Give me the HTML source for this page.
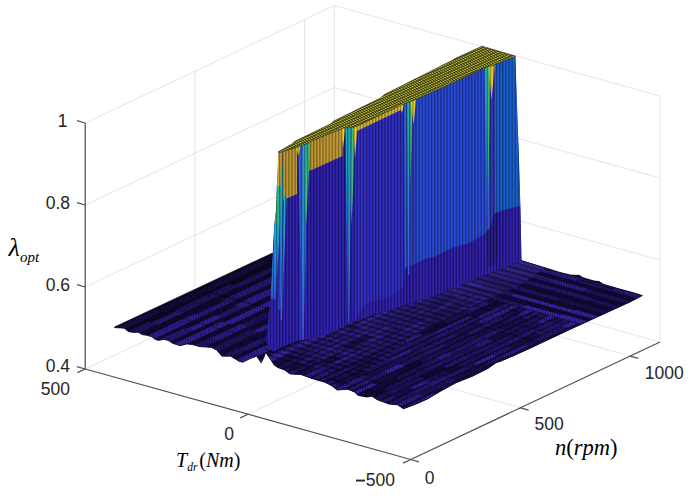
<!DOCTYPE html>
<html><head><meta charset="utf-8"><style>html,body{margin:0;padding:0;background:#fff;width:688px;height:498px;overflow:hidden}svg{display:block}</style></head>
<body><svg width="688" height="498" viewBox="0 0 688 498">
<defs>
<pattern id="mesh" patternUnits="userSpaceOnUse" width="2.4" height="20" patternTransform="rotate(8)"><rect x="0" y="0" width="1" height="20" fill="#000" fill-opacity="0.45"/></pattern>
<pattern id="vs" patternUnits="userSpaceOnUse" width="3.1" height="20"><rect x="0" y="0" width="1.2" height="20" fill="#000" fill-opacity="0.38"/><rect x="1.7" y="0" width="1" height="20" fill="#7080ff" fill-opacity="0.12"/></pattern>
<pattern id="tg" patternUnits="userSpaceOnUse" width="6.5" height="10" patternTransform="matrix(-0.32555,-0.09050,0.21941,-0.10343,247.975,168.250)"><rect x="0" y="0" width="2.4" height="10" fill="#202008" fill-opacity="0.8"/><rect x="0" y="0" width="6.5" height="3.2" fill="#202008" fill-opacity="0.8"/></pattern>
<linearGradient id="gtb" x1="0" y1="0" x2="0" y2="1"><stop offset="0" stop-color="#20b0b8"/><stop offset="0.45" stop-color="#1c90d8"/><stop offset="1" stop-color="#3858e0"/></linearGradient>
<linearGradient id="gcb" x1="0" y1="0" x2="0" y2="1"><stop offset="0" stop-color="#18b0d0"/><stop offset="1" stop-color="#2858d0"/></linearGradient>
<linearGradient id="hg" x1="0" y1="0" x2="0.25" y2="1"><stop offset="0" stop-color="#4634b8" stop-opacity="0.8"/><stop offset="0.5" stop-color="#4634b8" stop-opacity="0.3"/><stop offset="1" stop-color="#4634b8" stop-opacity="0"/></linearGradient>
<pattern id="hl" patternUnits="userSpaceOnUse" width="5" height="5" patternTransform="rotate(15.5)"><rect x="0" y="0" width="5" height="1.4" fill="#000" fill-opacity="0.55"/></pattern>
<linearGradient id="bkd" gradientUnits="userSpaceOnUse" x1="190" y1="292" x2="201" y2="316"><stop offset="0" stop-color="#000" stop-opacity="0.45"/><stop offset="1" stop-color="#000" stop-opacity="0"/></linearGradient>
</defs>
<rect width="688" height="498" fill="#fff"/>
<line x1="85.2" y1="287" x2="334.4" y2="169.5" stroke="#dedede" stroke-width="0.8"/>
<line x1="85.2" y1="205" x2="334.4" y2="87.5" stroke="#dedede" stroke-width="0.8"/>
<line x1="85.2" y1="123" x2="334.4" y2="5.5" stroke="#dedede" stroke-width="0.8"/>
<line x1="194.9" y1="317.3" x2="194.9" y2="71.3" stroke="#dedede" stroke-width="0.8"/>
<line x1="304.6" y1="265.6" x2="304.6" y2="19.6" stroke="#dedede" stroke-width="0.8"/>
<line x1="334.4" y1="251.5" x2="334.4" y2="5.5" stroke="#dedede" stroke-width="0.8"/>
<line x1="660" y1="260" x2="334.4" y2="169.5" stroke="#dedede" stroke-width="0.8"/>
<line x1="660" y1="178" x2="334.4" y2="87.5" stroke="#dedede" stroke-width="0.8"/>
<line x1="660" y1="96" x2="334.4" y2="5.5" stroke="#dedede" stroke-width="0.8"/>
<line x1="497.2" y1="296.8" x2="497.2" y2="50.8" stroke="#dedede" stroke-width="0.8"/>
<line x1="660" y1="342" x2="660" y2="96" stroke="#dedede" stroke-width="0.8"/>
<line x1="248" y1="414.2" x2="497.2" y2="296.8" stroke="#dedede" stroke-width="0.8"/>
<line x1="520.5" y1="407.8" x2="194.9" y2="317.3" stroke="#dedede" stroke-width="0.8"/>
<line x1="630.2" y1="356.1" x2="304.6" y2="265.6" stroke="#dedede" stroke-width="0.8"/>
<line x1="85.2" y1="369" x2="334.4" y2="251.5" stroke="#dedede" stroke-width="0.8"/>
<line x1="660" y1="342" x2="334.4" y2="251.5" stroke="#dedede" stroke-width="0.8"/>
<clipPath id="fc"><polygon points="114.5,327.5 124.4,328.3 128.3,331.6 133.5,332.5 138.1,332.2 142.1,334.6 147.9,335.6 151.9,336.8 155.1,339.4 158.4,340.4 163.6,339.4 168.2,340.4 172.8,343.4 178,345.1 180,345.7 187,344 193,344.8 199.2,346.6 211.4,347.4 216.6,350 221.9,356.2 230.6,356.2 239.3,361.4 242.8,362.3 249.8,358.8 256.7,356.2 261.1,362.8 263.7,357.9 265.5,352.7 267.2,354.4 274.2,364.9 277.7,367.5 284.7,370.1 290,374 300.5,374.4 312.7,378.8 324.9,382.3 331.9,385.8 337.1,390.1 347.6,389.2 354.5,391.9 358,395.4 366.7,397.1 372,396.2 377.2,399.7 384.2,402.3 388.7,404 397.4,404.8 400.9,407 403.5,408.8 410.5,406.2 419.2,402.7 428,398.7 440,391.5 456,382.8 472,376.4 488,368.4 496,362.8 500.8,361.2 512,356.4 528,349.2 570,329.4 600,315.7 630,302 642.4,295.6 633.3,292.7 618.9,288.8 603.2,284.2 599.2,281.6 594,280.9 582.9,277.7 579.6,275.4 570.5,275 560,272.4 521.5,260.5 450,230 350,230 272.5,253.5"/></clipPath>
<polygon points="114.5,327.5 124.4,328.3 128.3,331.6 133.5,332.5 138.1,332.2 142.1,334.6 147.9,335.6 151.9,336.8 155.1,339.4 158.4,340.4 163.6,339.4 168.2,340.4 172.8,343.4 178,345.1 180,345.7 187,344 193,344.8 199.2,346.6 211.4,347.4 216.6,350 221.9,356.2 230.6,356.2 239.3,361.4 242.8,362.3 249.8,358.8 256.7,356.2 261.1,362.8 263.7,357.9 265.5,352.7 267.2,354.4 274.2,364.9 277.7,367.5 284.7,370.1 290,374 300.5,374.4 312.7,378.8 324.9,382.3 331.9,385.8 337.1,390.1 347.6,389.2 354.5,391.9 358,395.4 366.7,397.1 372,396.2 377.2,399.7 384.2,402.3 388.7,404 397.4,404.8 400.9,407 403.5,408.8 410.5,406.2 419.2,402.7 428,398.7 440,391.5 456,382.8 472,376.4 488,368.4 496,362.8 500.8,361.2 512,356.4 528,349.2 570,329.4 600,315.7 630,302 642.4,295.6 633.3,292.7 618.9,288.8 603.2,284.2 599.2,281.6 594,280.9 582.9,277.7 579.6,275.4 570.5,275 560,272.4 521.5,260.5 450,230 350,230 272.5,253.5" fill="#120a3a"/>
<g clip-path="url(#fc)"><g id="ftex"><g transform="matrix(-0.32555,-0.09050,0.21941,-0.10343,247.975,373.250)"><g fill="#4c32e0"><rect x="420.5" y="40" width="25.9" height="184.6" fill-opacity="0.44"/><rect x="413.2" y="224.6" width="23.2" height="244.5" fill-opacity="0.22"/><rect x="413.9" y="469" width="23.2" height="248.7" fill-opacity="0.28"/><rect x="417.4" y="717.7" width="24.2" height="109.3" fill-opacity="0.22"/><rect x="420.3" y="827" width="26.2" height="62.6" fill-opacity="0.47"/><rect x="419.4" y="889.7" width="19.9" height="91.9" fill-opacity="0.55"/><rect x="420" y="981.6" width="20.6" height="183.5" fill-opacity="0.46"/><rect x="375.4" y="40" width="27.2" height="103.1" fill-opacity="0.46"/><rect x="372.9" y="143.1" width="20.5" height="117.9" fill-opacity="0.61"/><rect x="373" y="261" width="28.2" height="248.2" fill-opacity="0.41"/><rect x="368.8" y="509.2" width="20" height="238.7" fill-opacity="0.41"/><rect x="369.9" y="747.9" width="24.5" height="73" fill-opacity="0.57"/><rect x="370" y="820.9" width="26.7" height="60.7" fill-opacity="0.40"/><rect x="370" y="881.6" width="23.3" height="156.1" fill-opacity="0.34"/><rect x="367.7" y="1037.8" width="26" height="200.9" fill-opacity="0.65"/><rect x="322.1" y="40" width="26.4" height="229" fill-opacity="0.57"/><rect x="322.4" y="269" width="20.3" height="133.2" fill-opacity="0.43"/><rect x="323.6" y="402.2" width="26.1" height="251" fill-opacity="0.44"/><rect x="324.8" y="653.2" width="23.7" height="245.9" fill-opacity="0.56"/><rect x="322.9" y="899.2" width="26" height="215.1" fill-opacity="0.41"/><rect x="329.6" y="1114.3" width="19.4" height="219.4" fill-opacity="0.47"/><rect x="281.4" y="40" width="27.7" height="128.1" fill-opacity="0.42"/><rect x="279" y="168.1" width="21.7" height="128" fill-opacity="0.60"/><rect x="277.1" y="296.1" width="20" height="95.5" fill-opacity="0.38"/><rect x="276.9" y="391.6" width="28.4" height="197.8" fill-opacity="0.53"/><rect x="279.7" y="589.5" width="20.9" height="166.7" fill-opacity="0.45"/><rect x="279.9" y="756.2" width="19.1" height="178.8" fill-opacity="0.52"/><rect x="276.8" y="935" width="23.4" height="243.2" fill-opacity="0.32"/><rect x="238.6" y="40" width="24.8" height="227.7" fill-opacity="0.59"/><rect x="231.9" y="267.7" width="22.8" height="217.6" fill-opacity="0.60"/><rect x="234.6" y="485.3" width="28.5" height="89.8" fill-opacity="0.51"/><rect x="238.8" y="575.1" width="23" height="230.5" fill-opacity="0.36"/><rect x="233.3" y="805.6" width="22.5" height="157.6" fill-opacity="0.43"/><rect x="234" y="963.2" width="28.4" height="89.3" fill-opacity="0.30"/><rect x="233.7" y="1052.5" width="19.4" height="252" fill-opacity="0.34"/><rect x="191.8" y="40" width="27.2" height="114.5" fill-opacity="0.34"/><rect x="191.1" y="154.5" width="25.1" height="132.3" fill-opacity="0.50"/><rect x="188.4" y="286.7" width="25.5" height="211.9" fill-opacity="0.23"/><rect x="191" y="498.7" width="21.4" height="116.2" fill-opacity="0.23"/><rect x="190.7" y="614.8" width="24.3" height="249.1" fill-opacity="0.47"/><rect x="190.9" y="863.9" width="23.1" height="62.3" fill-opacity="0.36"/><rect x="190.7" y="926.3" width="26.5" height="223.3" fill-opacity="0.42"/><rect x="192.1" y="1149.6" width="22" height="129.6" fill-opacity="0.32"/><rect x="147" y="40" width="25.4" height="228.6" fill-opacity="0.28"/><rect x="144.2" y="268.6" width="20.2" height="255.2" fill-opacity="0.60"/><rect x="147.5" y="523.8" width="23.3" height="227.3" fill-opacity="0.41"/><rect x="141.4" y="751.1" width="26.3" height="198.3" fill-opacity="0.41"/><rect x="145.3" y="949.4" width="22.7" height="176.2" fill-opacity="0.24"/><rect x="145.8" y="1125.6" width="18.8" height="184.7" fill-opacity="0.48"/><rect x="98" y="40" width="25" height="92" fill-opacity="0.27"/><rect x="94.8" y="132" width="23.2" height="103.8" fill-opacity="0.38"/><rect x="94.9" y="235.8" width="19.8" height="105.2" fill-opacity="0.28"/><rect x="94.8" y="341.1" width="23.2" height="123.5" fill-opacity="0.49"/><rect x="99.4" y="464.5" width="24.4" height="136.1" fill-opacity="0.53"/><rect x="97.7" y="600.6" width="21.3" height="107.6" fill-opacity="0.45"/><rect x="95.4" y="708.2" width="26.8" height="142" fill-opacity="0.45"/><rect x="95.3" y="850.2" width="24" height="134.8" fill-opacity="0.62"/><rect x="99.1" y="984.9" width="28.1" height="127.9" fill-opacity="0.49"/><rect x="99.6" y="1112.8" width="22.2" height="223.7" fill-opacity="0.24"/><rect x="53.8" y="40" width="24.1" height="88.4" fill-opacity="0.57"/><rect x="51.8" y="128.4" width="27.4" height="251.4" fill-opacity="0.62"/><rect x="49.9" y="379.9" width="24.2" height="60.2" fill-opacity="0.41"/><rect x="56.1" y="440.1" width="22.3" height="183" fill-opacity="0.57"/><rect x="50.8" y="623.1" width="21.4" height="146.3" fill-opacity="0.59"/><rect x="56.3" y="769.4" width="24.5" height="254.5" fill-opacity="0.21"/><rect x="56.8" y="1023.9" width="23.5" height="112" fill-opacity="0.65"/><rect x="52.9" y="1135.9" width="21.4" height="143.1" fill-opacity="0.29"/><rect x="4.5" y="40" width="24.7" height="155.4" fill-opacity="0.65"/><rect x="10.1" y="195.4" width="18.6" height="148.7" fill-opacity="0.39"/><rect x="5.7" y="344.1" width="27.9" height="166.5" fill-opacity="0.65"/><rect x="4.7" y="510.6" width="28.4" height="216.4" fill-opacity="0.45"/><rect x="8.4" y="727" width="23.2" height="118.6" fill-opacity="0.55"/><rect x="4.4" y="845.6" width="26.1" height="189" fill-opacity="0.28"/><rect x="7.8" y="1034.6" width="21.9" height="120.1" fill-opacity="0.32"/><rect x="0.2" y="40" width="15.9" height="62.7" fill-opacity="0.13"/><rect x="0.2" y="102.7" width="17.3" height="112" fill-opacity="0.29"/><rect x="0.2" y="214.6" width="19.2" height="34" fill-opacity="0.33"/><rect x="0.2" y="248.6" width="17" height="127.7" fill-opacity="0.53"/><rect x="0.2" y="376.3" width="17.2" height="31.6" fill-opacity="0.36"/><rect x="0.2" y="407.9" width="17.5" height="107.9" fill-opacity="0.14"/><rect x="0.2" y="515.8" width="16.1" height="83" fill-opacity="0.48"/><rect x="0.2" y="598.8" width="14.9" height="123.7" fill-opacity="0.24"/><rect x="0.2" y="722.5" width="18.8" height="62.6" fill-opacity="0.36"/><rect x="0.2" y="785.1" width="16.3" height="74.9" fill-opacity="0.27"/><rect x="-22.5" y="40" width="14.6" height="61.5" fill-opacity="0.41"/><rect x="-22.5" y="101.5" width="17" height="82.6" fill-opacity="0.00"/><rect x="-22.5" y="184.1" width="17.3" height="84.7" fill-opacity="0.28"/><rect x="-22.5" y="268.9" width="14.2" height="119.3" fill-opacity="0.42"/><rect x="-22.5" y="388.2" width="17.7" height="55.3" fill-opacity="0.47"/><rect x="-22.5" y="443.5" width="18.1" height="32.8" fill-opacity="0.04"/><rect x="-22.5" y="476.3" width="14" height="137.7" fill-opacity="0.61"/><rect x="-22.5" y="613.9" width="15.1" height="122.6" fill-opacity="0.33"/><rect x="-22.5" y="736.6" width="14.6" height="101" fill-opacity="0.60"/><rect x="-22.5" y="837.6" width="19.3" height="22.4" fill-opacity="0.25"/><rect x="-45.2" y="40" width="14.7" height="46.5" fill-opacity="0.19"/><rect x="-45.2" y="86.5" width="14" height="98.5" fill-opacity="0.21"/><rect x="-45.2" y="184.9" width="14.1" height="41.9" fill-opacity="0.28"/><rect x="-45.2" y="226.8" width="18.2" height="93.3" fill-opacity="0.38"/><rect x="-45.2" y="320.1" width="15.6" height="126.6" fill-opacity="0.46"/><rect x="-45.2" y="446.7" width="16.7" height="96" fill-opacity="0.47"/><rect x="-45.2" y="542.8" width="17.9" height="133.2" fill-opacity="0.29"/><rect x="-45.2" y="676" width="17.5" height="46.6" fill-opacity="0.37"/><rect x="-45.2" y="722.6" width="17.5" height="85.6" fill-opacity="0.52"/><rect x="-45.2" y="808.3" width="17.1" height="51.7" fill-opacity="0.21"/><rect x="-68" y="40" width="14.6" height="58" fill-opacity="0.33"/><rect x="-68" y="98" width="16" height="55.8" fill-opacity="0.11"/><rect x="-68" y="153.7" width="17.7" height="111" fill-opacity="0.45"/><rect x="-68" y="264.8" width="17.8" height="39.4" fill-opacity="0.59"/><rect x="-68" y="304.2" width="15.2" height="40" fill-opacity="0.50"/><rect x="-68" y="344.2" width="16.6" height="126.5" fill-opacity="0.50"/><rect x="-68" y="470.7" width="18.1" height="65.6" fill-opacity="0.34"/><rect x="-68" y="536.2" width="14.7" height="35.9" fill-opacity="0.29"/><rect x="-68" y="572.1" width="14.4" height="134.7" fill-opacity="0.28"/><rect x="-68" y="706.8" width="17.7" height="137" fill-opacity="0.21"/><rect x="-68" y="843.8" width="15.9" height="16.2" fill-opacity="0.49"/><rect x="-90.8" y="40" width="15.7" height="55.9" fill-opacity="0.52"/><rect x="-90.8" y="95.9" width="14.6" height="97.5" fill-opacity="0.23"/><rect x="-90.8" y="193.4" width="17.6" height="121.4" fill-opacity="0.47"/><rect x="-90.8" y="314.8" width="16.9" height="118.5" fill-opacity="0.01"/><rect x="-90.8" y="433.3" width="17.2" height="95.2" fill-opacity="0.47"/><rect x="-90.8" y="528.5" width="13.9" height="111.4" fill-opacity="0.27"/><rect x="-90.8" y="639.9" width="14" height="52.3" fill-opacity="0.38"/><rect x="-90.8" y="692.2" width="13.8" height="127.8" fill-opacity="0.03"/><rect x="-90.8" y="820" width="19.1" height="40" fill-opacity="0.37"/><rect x="-113.5" y="40" width="14.3" height="98.1" fill-opacity="0.15"/><rect x="-113.5" y="138.1" width="14.7" height="47" fill-opacity="0.42"/><rect x="-113.5" y="185.2" width="14.7" height="71.2" fill-opacity="0.05"/><rect x="-113.5" y="256.4" width="15.4" height="57.9" fill-opacity="0.57"/><rect x="-113.5" y="314.3" width="16.6" height="47.8" fill-opacity="0.30"/><rect x="-113.5" y="362.1" width="19.3" height="33.5" fill-opacity="0.46"/><rect x="-113.5" y="395.6" width="17.8" height="70.6" fill-opacity="0.58"/><rect x="-113.5" y="466.2" width="19.4" height="81.9" fill-opacity="0.23"/><rect x="-113.5" y="548.1" width="17.8" height="43" fill-opacity="0.26"/><rect x="-113.5" y="591.1" width="14.7" height="110.2" fill-opacity="0.20"/><rect x="-113.5" y="701.3" width="14.2" height="52.1" fill-opacity="0.46"/><rect x="-113.5" y="753.4" width="19.6" height="74.1" fill-opacity="0.35"/><rect x="-113.5" y="827.5" width="15.4" height="32.5" fill-opacity="0.25"/><rect x="-136.2" y="40" width="18.1" height="110.6" fill-opacity="0.52"/><rect x="-136.2" y="150.6" width="19.4" height="48" fill-opacity="0.35"/><rect x="-136.2" y="198.5" width="16.3" height="101" fill-opacity="0.60"/><rect x="-136.2" y="299.6" width="18.4" height="137.3" fill-opacity="0.39"/><rect x="-136.2" y="436.9" width="14" height="75.1" fill-opacity="0.33"/><rect x="-136.2" y="512" width="15.9" height="90.3" fill-opacity="0.55"/><rect x="-136.2" y="602.3" width="14.2" height="40.3" fill-opacity="0.32"/><rect x="-136.2" y="642.6" width="14.1" height="128.9" fill-opacity="0.00"/><rect x="-136.2" y="771.5" width="14.1" height="56.8" fill-opacity="0.35"/><rect x="-136.2" y="828.3" width="16.2" height="31.7" fill-opacity="0.46"/><rect x="-159" y="40" width="14.1" height="63.7" fill-opacity="0.38"/><rect x="-159" y="103.7" width="16.8" height="34.1" fill-opacity="0.44"/><rect x="-159" y="137.8" width="16.9" height="74.3" fill-opacity="0.31"/><rect x="-159" y="212.1" width="17" height="39.3" fill-opacity="0.30"/><rect x="-159" y="251.3" width="17.3" height="131.3" fill-opacity="0.41"/><rect x="-159" y="382.7" width="17" height="124.2" fill-opacity="0.34"/><rect x="-159" y="506.9" width="17.2" height="83.5" fill-opacity="0.36"/><rect x="-159" y="590.4" width="19.2" height="71.4" fill-opacity="0.13"/><rect x="-159" y="661.9" width="16.4" height="63.8" fill-opacity="0.13"/><rect x="-159" y="725.7" width="15.6" height="120.9" fill-opacity="0.34"/><rect x="-159" y="846.6" width="18.4" height="13.4" fill-opacity="0.42"/><rect x="-181.8" y="40" width="14.2" height="120.1" fill-opacity="0.29"/><rect x="-181.8" y="160.1" width="14.3" height="56.9" fill-opacity="0.42"/><rect x="-181.8" y="217.1" width="14.1" height="77.2" fill-opacity="0.21"/><rect x="-181.8" y="294.2" width="14" height="107.1" fill-opacity="0.27"/><rect x="-181.8" y="401.3" width="14.3" height="52" fill-opacity="0.29"/><rect x="-181.8" y="453.3" width="15.6" height="76.3" fill-opacity="0.50"/><rect x="-181.8" y="529.5" width="17.7" height="112.8" fill-opacity="0.00"/><rect x="-181.8" y="642.3" width="17.2" height="113.6" fill-opacity="0.20"/><rect x="-181.8" y="755.9" width="19.5" height="78.6" fill-opacity="0.44"/><rect x="-181.8" y="834.5" width="18" height="25.5" fill-opacity="0.09"/><rect x="-204.5" y="40" width="14.5" height="59.4" fill-opacity="0.40"/><rect x="-204.5" y="99.4" width="14.8" height="37.3" fill-opacity="0.17"/><rect x="-204.5" y="136.7" width="14.1" height="58.9" fill-opacity="0.26"/><rect x="-204.5" y="195.6" width="17.1" height="114" fill-opacity="0.20"/><rect x="-204.5" y="309.6" width="15.9" height="33" fill-opacity="0.42"/><rect x="-204.5" y="342.6" width="19.4" height="124.6" fill-opacity="0.36"/><rect x="-204.5" y="467.2" width="15.9" height="97.3" fill-opacity="0.35"/><rect x="-204.5" y="564.5" width="13.8" height="66.3" fill-opacity="0.52"/><rect x="-204.5" y="630.9" width="14.3" height="94.3" fill-opacity="0.46"/><rect x="-204.5" y="725.1" width="14.8" height="88.3" fill-opacity="0.07"/><rect x="-204.5" y="813.5" width="18.5" height="46.5" fill-opacity="0.00"/><rect x="-227.2" y="40" width="15.7" height="43" fill-opacity="0.47"/><rect x="-227.2" y="83" width="16.4" height="130.6" fill-opacity="0.14"/><rect x="-227.2" y="213.7" width="19.4" height="114.4" fill-opacity="0.38"/><rect x="-227.2" y="328.1" width="14.4" height="88.6" fill-opacity="0.57"/><rect x="-227.2" y="416.7" width="16.3" height="119.6" fill-opacity="0.28"/><rect x="-227.2" y="536.2" width="17.2" height="35.8" fill-opacity="0.38"/><rect x="-227.2" y="572" width="19" height="83" fill-opacity="0.32"/><rect x="-227.2" y="655" width="15" height="73.2" fill-opacity="0.36"/><rect x="-227.2" y="728.2" width="15.9" height="91.9" fill-opacity="0.47"/><rect x="-227.2" y="820.1" width="15.2" height="39.9" fill-opacity="0.34"/><rect x="-250" y="40" width="18.8" height="138.1" fill-opacity="0.50"/><rect x="-250" y="178.1" width="14.6" height="123.5" fill-opacity="0.20"/><rect x="-250" y="301.5" width="16.7" height="121.5" fill-opacity="0.21"/><rect x="-250" y="423" width="18.1" height="34.2" fill-opacity="0.37"/><rect x="-250" y="457.2" width="14.9" height="129" fill-opacity="0.40"/><rect x="-250" y="586.2" width="18.9" height="117.7" fill-opacity="0.21"/><rect x="-250" y="703.9" width="18.6" height="98.5" fill-opacity="0.57"/><rect x="-250" y="802.4" width="17.3" height="57.6" fill-opacity="0.55"/><rect x="-272.8" y="40" width="16.1" height="50.3" fill-opacity="0.34"/><rect x="-272.8" y="90.3" width="16" height="64.9" fill-opacity="0.48"/><rect x="-272.8" y="155.2" width="18" height="82.4" fill-opacity="0.36"/><rect x="-272.8" y="237.6" width="19.3" height="73.9" fill-opacity="0.66"/><rect x="-272.8" y="311.5" width="17.8" height="106.2" fill-opacity="0.29"/><rect x="-272.8" y="417.7" width="17.3" height="89" fill-opacity="0.38"/><rect x="-272.8" y="506.7" width="16.9" height="104.7" fill-opacity="0.17"/><rect x="-272.8" y="611.5" width="15.9" height="61.3" fill-opacity="0.40"/><rect x="-272.8" y="672.7" width="18.3" height="93.8" fill-opacity="0.37"/><rect x="-272.8" y="766.6" width="15.4" height="93.4" fill-opacity="0.19"/><rect x="-295.5" y="40" width="14.2" height="108.8" fill-opacity="0.70"/><rect x="-295.5" y="148.8" width="19.1" height="112.9" fill-opacity="0.11"/><rect x="-295.5" y="261.6" width="18.8" height="105.6" fill-opacity="0.00"/><rect x="-295.5" y="367.3" width="16.9" height="111.2" fill-opacity="0.24"/><rect x="-295.5" y="478.5" width="15.2" height="128.6" fill-opacity="0.25"/><rect x="-295.5" y="607.1" width="13.8" height="137.2" fill-opacity="0.16"/><rect x="-295.5" y="744.3" width="14.8" height="72.9" fill-opacity="0.28"/><rect x="-295.5" y="817.2" width="17.4" height="42.8" fill-opacity="0.65"/><rect x="-318.2" y="40" width="14.4" height="72.5" fill-opacity="0.10"/><rect x="-318.2" y="112.5" width="16" height="105.8" fill-opacity="0.06"/><rect x="-318.2" y="218.3" width="15" height="127.5" fill-opacity="0.24"/><rect x="-318.2" y="345.8" width="19.1" height="63.6" fill-opacity="0.30"/><rect x="-318.2" y="409.5" width="17.5" height="48.4" fill-opacity="0.58"/><rect x="-318.2" y="457.9" width="17.1" height="114.3" fill-opacity="0.34"/><rect x="-318.2" y="572.2" width="19" height="121.3" fill-opacity="0.39"/><rect x="-318.2" y="693.5" width="16.9" height="110.1" fill-opacity="0.17"/><rect x="-318.2" y="803.6" width="15.6" height="56.4" fill-opacity="0.42"/><rect x="-341" y="40" width="14.9" height="60.9" fill-opacity="0.00"/><rect x="-341" y="100.9" width="14.4" height="33.4" fill-opacity="0.04"/><rect x="-341" y="134.2" width="14.9" height="91.9" fill-opacity="0.24"/><rect x="-341" y="226.1" width="17.6" height="95.4" fill-opacity="0.26"/><rect x="-341" y="321.5" width="16.7" height="105.9" fill-opacity="0.32"/><rect x="-341" y="427.4" width="19.5" height="121.8" fill-opacity="0.27"/><rect x="-341" y="549.3" width="19.3" height="65" fill-opacity="0.48"/><rect x="-341" y="614.3" width="17.9" height="55.2" fill-opacity="0.12"/><rect x="-341" y="669.5" width="14.9" height="122.5" fill-opacity="0.25"/><rect x="-341" y="792" width="14.3" height="47.2" fill-opacity="0.34"/><rect x="-341" y="839.2" width="18.3" height="20.8" fill-opacity="0.27"/><rect x="-363.8" y="40" width="18.6" height="111" fill-opacity="0.27"/><rect x="-363.8" y="151" width="19.5" height="118.4" fill-opacity="0.24"/><rect x="-363.8" y="269.4" width="19.5" height="98.8" fill-opacity="0.00"/><rect x="-363.8" y="368.2" width="15" height="41.4" fill-opacity="0.38"/><rect x="-363.8" y="409.5" width="16.5" height="71.2" fill-opacity="0.37"/><rect x="-363.8" y="480.7" width="16.2" height="104.9" fill-opacity="0.33"/><rect x="-363.8" y="585.6" width="16" height="89.8" fill-opacity="0.25"/><rect x="-363.8" y="675.3" width="17.9" height="42.9" fill-opacity="0.19"/><rect x="-363.8" y="718.3" width="19.5" height="84.5" fill-opacity="0.23"/><rect x="-363.8" y="802.8" width="18.1" height="57.2" fill-opacity="0.60"/><rect x="-386.5" y="40" width="14.5" height="62.6" fill-opacity="0.46"/><rect x="-386.5" y="102.6" width="19.3" height="82.7" fill-opacity="0.15"/><rect x="-386.5" y="185.2" width="15.5" height="72" fill-opacity="0.56"/><rect x="-386.5" y="257.3" width="17.2" height="84.9" fill-opacity="0.23"/><rect x="-386.5" y="342.1" width="15.8" height="62.6" fill-opacity="0.03"/><rect x="-386.5" y="404.7" width="16.3" height="123.3" fill-opacity="0.27"/><rect x="-386.5" y="528" width="17.7" height="56.2" fill-opacity="0.32"/><rect x="-386.5" y="584.1" width="16.6" height="38.1" fill-opacity="0.32"/><rect x="-386.5" y="622.2" width="17" height="138.3" fill-opacity="0.41"/><rect x="-386.5" y="760.5" width="15.9" height="72.5" fill-opacity="0.40"/><rect x="-386.5" y="833" width="13.8" height="27" fill-opacity="0.30"/><rect x="-409.2" y="40" width="15.3" height="114.3" fill-opacity="0.31"/><rect x="-409.2" y="154.3" width="16" height="80.4" fill-opacity="0.36"/><rect x="-409.2" y="234.7" width="19.6" height="86.8" fill-opacity="0.45"/><rect x="-409.2" y="321.5" width="16.6" height="78.7" fill-opacity="0.37"/><rect x="-409.2" y="400.2" width="17.9" height="39.4" fill-opacity="0.25"/><rect x="-409.2" y="439.6" width="14.1" height="85.9" fill-opacity="0.70"/><rect x="-409.2" y="525.4" width="17.3" height="73.2" fill-opacity="0.36"/><rect x="-409.2" y="598.6" width="17.6" height="129.3" fill-opacity="0.14"/><rect x="-409.2" y="727.9" width="18.4" height="99.9" fill-opacity="0.37"/><rect x="-409.2" y="827.8" width="19" height="32.2" fill-opacity="0.34"/><rect x="-432" y="40" width="19.7" height="120.8" fill-opacity="0.48"/><rect x="-432" y="160.8" width="19.1" height="113.2" fill-opacity="0.24"/><rect x="-432" y="274" width="19.6" height="46.3" fill-opacity="0.37"/><rect x="-432" y="320.3" width="15.1" height="139.4" fill-opacity="0.15"/><rect x="-432" y="459.7" width="15.5" height="76.4" fill-opacity="0.30"/><rect x="-432" y="536" width="14.5" height="103.3" fill-opacity="0.53"/><rect x="-432" y="639.3" width="16" height="48.6" fill-opacity="0.26"/><rect x="-432" y="688" width="19.1" height="128.7" fill-opacity="0.35"/><rect x="-432" y="816.7" width="19.5" height="43.3" fill-opacity="0.67"/><rect x="-454.8" y="40" width="14.6" height="95.9" fill-opacity="0.37"/><rect x="-454.8" y="135.9" width="13.9" height="56" fill-opacity="0.70"/><rect x="-454.8" y="191.9" width="16.3" height="50.3" fill-opacity="0.13"/><rect x="-454.8" y="242.2" width="18.4" height="59.3" fill-opacity="0.33"/><rect x="-454.8" y="301.6" width="16.9" height="46.7" fill-opacity="0.16"/><rect x="-454.8" y="348.3" width="14.4" height="137.2" fill-opacity="0.31"/><rect x="-454.8" y="485.5" width="16" height="100.8" fill-opacity="0.26"/><rect x="-454.8" y="586.3" width="19.5" height="70.6" fill-opacity="0.09"/><rect x="-454.8" y="656.9" width="17.2" height="56.5" fill-opacity="0.36"/><rect x="-454.8" y="713.4" width="14.6" height="58.9" fill-opacity="0.05"/><rect x="-454.8" y="772.3" width="18" height="82.9" fill-opacity="0.25"/><rect x="-454.8" y="855.2" width="16.8" height="4.8" fill-opacity="0.35"/><rect x="-477.5" y="40" width="18.5" height="97.2" fill-opacity="0.14"/><rect x="-477.5" y="137.2" width="16.1" height="36.2" fill-opacity="0.28"/><rect x="-477.5" y="173.3" width="13.9" height="68" fill-opacity="0.33"/><rect x="-477.5" y="241.4" width="19.3" height="62.8" fill-opacity="0.08"/><rect x="-477.5" y="304.1" width="16.9" height="70.7" fill-opacity="0.41"/><rect x="-477.5" y="374.9" width="19.7" height="108.4" fill-opacity="0.70"/><rect x="-477.5" y="483.3" width="14.7" height="63.2" fill-opacity="0.16"/><rect x="-477.5" y="546.5" width="18.2" height="132.5" fill-opacity="0.50"/><rect x="-477.5" y="679" width="16.1" height="88.2" fill-opacity="0.42"/><rect x="-477.5" y="767.2" width="18.7" height="92.8" fill-opacity="0.26"/><rect x="-59.3" y="864" width="79.3" height="22.5" fill-opacity="0.62"/><rect x="-188.5" y="864" width="129.2" height="23.5" fill-opacity="0.26"/><rect x="-256.9" y="864" width="68.4" height="19.9" fill-opacity="0.33"/><rect x="-364.8" y="864" width="107.9" height="21.6" fill-opacity="0.70"/><rect x="-463.4" y="864" width="98.6" height="26.8" fill-opacity="0.70"/><rect x="-627.2" y="864" width="163.8" height="25.3" fill-opacity="0.35"/><rect x="-94.4" y="914" width="114.4" height="25.3" fill-opacity="0.70"/><rect x="-188.8" y="914" width="94.4" height="23.4" fill-opacity="0.35"/><rect x="-374.4" y="914" width="185.6" height="20.8" fill-opacity="0.70"/><rect x="-453.6" y="914" width="79.2" height="24.6" fill-opacity="0.69"/><rect x="-515" y="914" width="61.4" height="19.4" fill-opacity="0.49"/><rect x="-155.4" y="964" width="175.4" height="19.4" fill-opacity="0.00"/><rect x="-297.8" y="964" width="142.4" height="20.2" fill-opacity="0.39"/><rect x="-458.8" y="964" width="161" height="21.2" fill-opacity="0.17"/><rect x="-651.6" y="964" width="192.9" height="20.1" fill-opacity="0.20"/><rect x="-49" y="1014" width="69" height="19.7" fill-opacity="0.34"/><rect x="-173.4" y="1014" width="124.4" height="25.5" fill-opacity="0.30"/><rect x="-358.3" y="1014" width="184.9" height="25.4" fill-opacity="0.37"/><rect x="-536.4" y="1014" width="178.1" height="20.2" fill-opacity="0.31"/><rect x="-145.6" y="1064" width="165.6" height="19" fill-opacity="0.37"/><rect x="-311.8" y="1064" width="166.1" height="24.2" fill-opacity="0.55"/><rect x="-498.1" y="1064" width="186.3" height="21.2" fill-opacity="0.27"/><rect x="-76.9" y="1114" width="96.9" height="28.5" fill-opacity="0.40"/><rect x="-165.6" y="1114" width="88.7" height="19.8" fill-opacity="0.54"/><rect x="-285.1" y="1114" width="119.5" height="25.2" fill-opacity="0.48"/><rect x="-436.2" y="1114" width="151.1" height="23.9" fill-opacity="0.43"/><rect x="-592.4" y="1114" width="156.2" height="23.5" fill-opacity="0.48"/></g><g fill="#000"><rect x="-150.9" y="50" width="283.3" height="9.1" fill-opacity="0.32"/><rect x="-364.7" y="100.3" width="192.6" height="10.3" fill-opacity="0.36"/><rect x="-297.1" y="162" width="99.9" height="5.8" fill-opacity="0.40"/><rect x="89.9" y="219.8" width="292.2" height="5.4" fill-opacity="0.36"/><rect x="-461.4" y="274.4" width="196.2" height="6.4" fill-opacity="0.21"/><rect x="-452.9" y="312" width="182.1" height="7.2" fill-opacity="0.31"/><rect x="-105" y="375.7" width="190" height="9.7" fill-opacity="0.37"/><rect x="98.7" y="424" width="299.1" height="7.5" fill-opacity="0.41"/><rect x="-339.1" y="482.3" width="143.6" height="7.8" fill-opacity="0.22"/><rect x="12.6" y="543" width="165" height="8.6" fill-opacity="0.44"/><rect x="-350.5" y="606.8" width="280.3" height="5" fill-opacity="0.32"/><rect x="-428.4" y="676.1" width="218.5" height="8.6" fill-opacity="0.39"/><rect x="-280.4" y="716.9" width="292.1" height="5.8" fill-opacity="0.39"/><rect x="-412.4" y="751.6" width="93.2" height="7.2" fill-opacity="0.40"/><rect x="-215" y="788.7" width="122" height="10" fill-opacity="0.38"/><rect x="-403.6" y="823.9" width="172.6" height="10.8" fill-opacity="0.25"/><rect x="-12.1" y="864.7" width="146.9" height="13.7" fill-opacity="0.42"/><rect x="17" y="903.1" width="221.2" height="8.5" fill-opacity="0.23"/><rect x="-322.8" y="972.7" width="250" height="6.9" fill-opacity="0.28"/><rect x="-418.6" y="1014.6" width="208.2" height="5.7" fill-opacity="0.26"/><rect x="-211.7" y="1068.6" width="291" height="8.3" fill-opacity="0.32"/><rect x="-365.8" y="1121.6" width="113.9" height="12.8" fill-opacity="0.43"/></g></g><rect x="100" y="200" width="560" height="220" fill="url(#mesh)"/></g></g>
<polygon points="100,334 280,250 300,290 120,372" fill="url(#bkd)" clip-path="url(#fc)"/>
<polyline points="114.5,327.5 272.5,253.5" fill="none" stroke="#06031a" stroke-width="1.6" stroke-opacity="0.85"/>
<clipPath id="wc"><polygon points="278.4,152.6 297.7,147.3 309,142.1 343,128.1 355,127 402,104.6 415,99.8 440,88.4 486.4,67.3 493.4,65.2 515.4,56.1 517,105 519,160 520.5,210 521.5,260.5 504.4,267.8 475,279.4 446,291 440,294.4 416,301.4 389.8,310 350,322.2 346.2,324 328,334 316.3,338 299.2,340.6 285,346 273,352.3 266.5,343.2 265.9,336.7 267.5,327 269,311 270.7,295 272.1,260 274.3,222.8 276,210 276.8,186 278.4,153.3"/></clipPath>
<g clip-path="url(#wc)"><polygon points="278.4,152.6 297.7,147.3 309,142.1 343,128.1 355,127 402,104.6 415,99.8 440,88.4 486.4,67.3 493.4,65.2 515.4,56.1 517,105 519,160 520.5,210 521.5,260.5 504.4,267.8 475,279.4 446,291 440,294.4 416,301.4 389.8,310 350,322.2 346.2,324 328,334 316.3,338 299.2,340.6 285,346 273,352.3 266.5,343.2 265.9,336.7 267.5,327 269,311 270.7,295 272.1,260 274.3,222.8 276,210 276.8,186 278.4,153.3" fill="#2a1caa"/><polygon points="355,127 356.5,126.3 358,125.6 359.5,124.9 361,124.1 362.5,123.4 364,122.7 365.5,122 367,121.3 368.5,120.6 370,119.9 371.5,119.1 373,118.4 374.5,117.7 376,117 377.5,116.3 379,115.6 380.5,114.8 382,114.1 383.5,113.4 385,112.7 386.5,112 388,111.3 389.5,110.6 391,109.8 392.5,109.1 394,108.4 395.5,107.7 397,107 398.5,106.3 400,105.6 401.5,104.8 403,104.2 404.5,103.7 405,103.5 405,274.6 404.5,281.3 403,287.5 401.5,288.7 400,289.9 398.5,291.1 397,292.3 395.5,293.3 394,294.1 392.5,294.8 391,295.6 389.5,296.3 388,297.1 386.5,297.8 385,298.6 383.5,299.3 382,299.6 380.5,299.7 379,299.9 377.5,300 376,300.1 374.5,300.2 373,300.6 371.5,301.4 370,302.1 368.5,302.9 367,303.7 365.5,305.4 364,307 362.5,308.7 361,310.4 359.5,311.8 358,313.1 356.5,322 355,330" fill="#2c28bc"/><polygon points="405,103.5 406.5,102.9 408,102.4 409.5,101.8 411,101.3 412.5,100.7 414,100.2 415.5,99.6 416,99.3 416,263.6 415.5,263.8 414,264.4 412.5,265.1 411,265.7 409.5,266.3 408,267 406.5,267.6 405,274.6" fill="#2c3cb8"/><polygon points="416,99.3 417.5,98.7 419,98 420.5,97.3 422,96.6 423.5,95.9 425,95.2 426.5,94.6 428,93.9 429.5,93.2 431,92.5 432.5,91.8 434,91.1 435.5,90.5 437,89.8 438.5,89.1 440,88.4 441.5,87.7 443,87 444.5,86.4 446,85.7 447.5,85 449,84.3 450.5,83.6 452,82.9 453.5,82.3 455,81.6 456.5,80.9 458,80.2 459.5,79.5 461,78.9 462.5,78.2 464,77.5 465.5,76.8 467,76.1 468.5,75.4 470,74.8 471.5,74.1 473,73.4 474.5,72.7 476,72 477.5,71.3 479,70.7 480.5,70 482,69.3 483.5,68.6 485,67.9 486,67.5 486,232.8 485,233.8 483.5,235 482,235.8 480.5,236.7 479,237.6 477.5,238.5 476,239.3 474.5,240.2 473,241.1 471.5,242 470,242.8 468.5,243.7 467,244.4 465.5,244.7 464,245 462.5,245.3 461,245.6 459.5,245.9 458,246.3 456.5,246.6 455,246.9 453.5,247.2 452,247.9 450.5,248.6 449,249.4 447.5,250.1 446,250.9 444.5,251.6 443,252.4 441.5,253.1 440,253.9 438.5,254.8 437,255.7 435.5,256.6 434,257.1 432.5,257.4 431,257.7 429.5,257.9 428,258.2 426.5,258.6 425,259.3 423.5,260.1 422,260.8 420.5,261.6 419,262.3 417.5,263 416,263.6" fill="#2446d2"/><polygon points="486,67.5 487.5,67 489,66.5 490.5,66.1 492,65.6 493.5,65.2 495,64.5 495,213.5 493.5,215.9 492,221.4 490.5,227 489,229.9 487.5,231.4 486,232.8" fill="#2a36a8"/><polygon points="495,64.5 496.5,63.9 498,63.3 499.5,62.7 501,62.1 502.5,61.4 504,60.8 505.5,60.2 507,59.6 508.5,59 510,58.3 511.5,57.7 513,57.1 514.5,56.5 516,56.1 517.5,56.1 519,56.1 520.5,56.1 522,56.1 522,206 520.5,206.2 519,206.3 517.5,206.5 516,207 514.5,207.4 513,207.8 511.5,208.3 510,208.7 508.5,209.1 507,209.5 505.5,210 504,210.4 502.5,210.8 501,211.3 499.5,211.7 498,212.2 496.5,212.9 495,213.5" fill="#165cca"/><polygon points="356,330 357,314 360.7,310.7 367.2,303.5 373.6,300.3 383.2,299.5 396.1,293 404.1,286.6 405.5,268 418.6,262.5 426.6,258.5 435,256.9 439.4,254.2 453.4,247.2 467.5,244.3 484.3,234.5 490,228.9 494,214 498.4,212 518,206.4 522,206 522,262 356,340" fill="#2c1aa2"/><polygon points="282.4,151 297,147.4 297,194 282.4,200.6" fill="#c49a2a"/><polygon points="309.5,142 343,128.2 342.5,156 309.5,171" fill="#c49a2a"/><polygon points="355.5,126.6 402,104.6 402,109.5 355.5,131.8" fill="#d4b430"/><polygon points="277.5,153 281.8,152 281.8,186 277,186" fill="#d8a830"/><polygon points="276.5,186 281.8,186 280,226 274.5,224" fill="#30b880"/><polygon points="274.5,224 280,226 275.5,300 270.5,298" fill="url(#gcb)"/><polygon points="281,166 284,166 280.5,310 278.5,310" fill="url(#gtb)"/><polygon points="284,196 286.5,196 282,320 280.5,320" fill="url(#gtb)"/><polygon points="298,147 302.5,145.5 302,260 301.5,345 300.5,345 300.5,260" fill="#3a5ad4"/><polygon points="302.5,145.5 306.5,144 305.5,260 303.5,345 302.5,345 302,260" fill="url(#gtb)"/><polygon points="306.5,144 310.5,142.3 307.5,200 306.2,225 305.6,200" fill="#3cc070"/><polygon points="296,147.6 300.5,146.4 298.5,156" fill="#f0d020"/><polygon points="345.5,126.8 351.5,126.8 350,260 349,326 348,326 347,260" fill="url(#gtb)"/><polygon points="351.5,126.8 355,126.6 352.8,195 351.5,225 350.6,195" fill="#40c070"/><polygon points="341,128.7 345.5,126.8 343,148" fill="#f0d020"/><polygon points="353.5,126.9 357.5,126 355,157.7" fill="#f2d020"/><polygon points="403.8,103.8 407,102.4 406.5,266 405,268" fill="#2a62cc"/><polygon points="407,102.4 409.4,101.3 409.5,275 408,275" fill="url(#gtb)"/><polygon points="409.4,101.3 412.6,100.3 410.5,185" fill="#48c060"/><polygon points="399,106 404,103.8 402,113" fill="#f0d020"/><polygon points="410.5,100.8 416,99.6 413.5,125" fill="#f2d420"/><polygon points="484.5,68 488.5,66.3 489,228 487,230" fill="url(#gtb)"/><polygon points="487,66.8 490,66 488.5,190" fill="#40c060"/><polygon points="488.5,66.5 494.8,64.9 491.5,99.6" fill="#f0c820"/><polygon points="486,232 490,229 494,214 498,212 497,262 488,268" fill="#221878"/><rect x="260" y="40" width="270" height="320" fill="url(#vs)"/></g>
<clipPath id="ffc"><polygon points="521.5,260.5 504.4,267.8 475,279.4 446,291 440,294.4 416,301.4 389.8,310 350,322.2 346.2,324 328,334 316.3,338 299.2,340.6 285,346 273,352.3 266.5,343.2 263.7,357.9 261.1,362.8 263.7,357.9 265.5,352.7 267.2,354.4 274.2,364.9 277.7,367.5 284.7,370.1 290,374 300.5,374.4 312.7,378.8 324.9,382.3 331.9,385.8 337.1,390.1 347.6,389.2 354.5,391.9 358,395.4 366.7,397.1 372,396.2 377.2,399.7 384.2,402.3 388.7,404 397.4,404.8 400.9,407 403.5,408.8 410.5,406.2 419.2,402.7 428,398.7 440,391.5 456,382.8 472,376.4 488,368.4 496,362.8 500.8,361.2 512,356.4 528,349.2 570,329.4 600,315.7 630,302 642.4,295.6 633.3,292.7 618.9,288.8 603.2,284.2 599.2,281.6 594,280.9 582.9,277.7 579.6,275.4 570.5,275 560,272.4 521.5,260.5"/></clipPath>
<polygon points="521.5,260.5 504.4,267.8 475,279.4 446,291 440,294.4 416,301.4 389.8,310 350,322.2 346.2,324 328,334 316.3,338 299.2,340.6 285,346 273,352.3 266.5,343.2 263.7,357.9 261.1,362.8 263.7,357.9 265.5,352.7 267.2,354.4 274.2,364.9 277.7,367.5 284.7,370.1 290,374 300.5,374.4 312.7,378.8 324.9,382.3 331.9,385.8 337.1,390.1 347.6,389.2 354.5,391.9 358,395.4 366.7,397.1 372,396.2 377.2,399.7 384.2,402.3 388.7,404 397.4,404.8 400.9,407 403.5,408.8 410.5,406.2 419.2,402.7 428,398.7 440,391.5 456,382.8 472,376.4 488,368.4 496,362.8 500.8,361.2 512,356.4 528,349.2 570,329.4 600,315.7 630,302 642.4,295.6 633.3,292.7 618.9,288.8 603.2,284.2 599.2,281.6 594,280.9 582.9,277.7 579.6,275.4 570.5,275 560,272.4 521.5,260.5" fill="#120a3a"/>
<g clip-path="url(#ffc)"><use href="#ftex"/></g>
<polyline points="114.5,327.5 124.4,328.3 128.3,331.6 133.5,332.5 138.1,332.2 142.1,334.6 147.9,335.6 151.9,336.8 155.1,339.4 158.4,340.4 163.6,339.4 168.2,340.4 172.8,343.4 178,345.1 180,345.7 187,344 193,344.8 199.2,346.6 211.4,347.4 216.6,350 221.9,356.2 230.6,356.2 239.3,361.4 242.8,362.3 249.8,358.8 256.7,356.2 261.1,362.8 263.7,357.9 265.5,352.7 267.2,354.4 274.2,364.9 277.7,367.5 284.7,370.1 290,374 300.5,374.4 312.7,378.8 324.9,382.3 331.9,385.8 337.1,390.1 347.6,389.2 354.5,391.9 358,395.4 366.7,397.1 372,396.2 377.2,399.7 384.2,402.3 388.7,404 397.4,404.8 400.9,407 403.5,408.8 410.5,406.2 419.2,402.7 428,398.7 440,391.5 456,382.8 472,376.4 488,368.4 496,362.8 500.8,361.2 512,356.4 528,349.2 570,329.4 600,315.7 630,302 642.4,295.6 633.3,292.7 618.9,288.8 603.2,284.2 599.2,281.6 594,280.9 582.9,277.7 579.6,275.4 570.5,275 560,272.4 521.5,260.5" fill="none" stroke="#0a0628" stroke-width="0.9" stroke-opacity="0.8"/>
<g clip-path="url(#ffc)"><polygon points="266.5,343.2 273,352.3 285,346 299.2,340.6 316.3,338 328,334 346.2,324 350,322.2 389.8,310 416,301.4 440,294.4 446,291 475,279.4 504.4,267.8 521.5,260.5 545,268 520,285 480,303 440,322 410,338 385,362 360,375 330,372 300,365 275,362 263.7,357.9" fill="url(#hg)"/><polygon points="266.5,343.2 273,352.3 285,346 299.2,340.6 316.3,338 328,334 346.2,324 350,322.2 389.8,310 416,301.4 440,294.4 446,291 475,279.4 504.4,267.8 521.5,260.5 545,268 520,285 480,303 440,322 410,338 385,362 360,375 330,372 300,365 275,362 263.7,357.9" fill="url(#hl)"/></g>
<polygon points="278.4,151.7 292.4,143.8 294.2,141.7 330.8,123.8 333.4,121.2 380.5,98 384.5,94.5 451.5,60.7 455,58.5 482.1,46.2 515.4,56.1 515.4,56.1 493.4,65.2 486.4,67.3 440,88.4 415,99.8 402,104.6 355,127 343,128.1 309,142.1 297.7,147.3 278.4,152.6" fill="#b4b238"/>
<polygon points="278.4,151.7 292.4,143.8 294.2,141.7 330.8,123.8 333.4,121.2 380.5,98 384.5,94.5 451.5,60.7 455,58.5 482.1,46.2 515.4,56.1 515.4,56.1 493.4,65.2 486.4,67.3 440,88.4 415,99.8 402,104.6 355,127 343,128.1 309,142.1 297.7,147.3 278.4,152.6" fill="url(#tg)" stroke="#1a1a06" stroke-width="0.7" stroke-opacity="0.8"/>
<line x1="85.2" y1="369" x2="85.2" y2="123" stroke="#505050" stroke-width="1.25"/>
<line x1="85.2" y1="369" x2="410.8" y2="459.5" stroke="#505050" stroke-width="1.25"/>
<line x1="410.8" y1="459.5" x2="660" y2="342" stroke="#505050" stroke-width="1.25"/>
<line x1="85.2" y1="369" x2="77" y2="366.7" stroke="#505050" stroke-width="1.25"/>
<line x1="85.2" y1="287" x2="77" y2="284.7" stroke="#505050" stroke-width="1.25"/>
<line x1="85.2" y1="205" x2="77" y2="202.7" stroke="#505050" stroke-width="1.25"/>
<line x1="85.2" y1="123" x2="77" y2="120.7" stroke="#505050" stroke-width="1.25"/>
<line x1="85.2" y1="369" x2="77.5" y2="372.6" stroke="#505050" stroke-width="1.25"/>
<line x1="248" y1="414.2" x2="240.3" y2="417.9" stroke="#505050" stroke-width="1.25"/>
<line x1="410.8" y1="459.5" x2="403.1" y2="463.1" stroke="#505050" stroke-width="1.25"/>
<line x1="410.8" y1="459.5" x2="418.9" y2="461.8" stroke="#505050" stroke-width="1.25"/>
<line x1="520.5" y1="407.8" x2="528.6" y2="410.1" stroke="#505050" stroke-width="1.25"/>
<line x1="630.2" y1="356.1" x2="638.3" y2="358.3" stroke="#505050" stroke-width="1.25"/>
<text x="67.5" y="126.5" font-size="17.5" text-anchor="end" fill="#262626" style="font-family:'Liberation Sans',sans-serif">1</text>
<text x="70" y="209" font-size="17.5" text-anchor="end" fill="#262626" style="font-family:'Liberation Sans',sans-serif">0.8</text>
<text x="70" y="290.5" font-size="17.5" text-anchor="end" fill="#262626" style="font-family:'Liberation Sans',sans-serif">0.6</text>
<text x="70" y="372" font-size="17.5" text-anchor="end" fill="#262626" style="font-family:'Liberation Sans',sans-serif">0.4</text>
<text x="70" y="394.5" font-size="17.5" text-anchor="end" fill="#262626" style="font-family:'Liberation Sans',sans-serif">500</text>
<text x="234" y="440" font-size="17.5" text-anchor="end" fill="#262626" style="font-family:'Liberation Sans',sans-serif">0</text>
<text x="395" y="486" font-size="17.5" text-anchor="end" fill="#262626" style="font-family:'Liberation Sans',sans-serif">500</text>
<rect x="356" y="479.6" width="9" height="1.9" fill="#262626"/>
<text x="424.8" y="483.5" font-size="17.5" text-anchor="start" fill="#262626" style="font-family:'Liberation Sans',sans-serif">0</text>
<text x="534.6" y="430" font-size="17.5" text-anchor="start" fill="#262626" style="font-family:'Liberation Sans',sans-serif">500</text>
<text x="644.8" y="379.3" font-size="17.5" text-anchor="start" fill="#262626" style="font-family:'Liberation Sans',sans-serif">1000</text>
<text x="8.5" y="256" style="font-family:'Liberation Serif',serif" font-size="26" font-style="italic" fill="#000">&#955;</text>
<text x="20" y="262" style="font-family:'Liberation Serif',serif" font-size="15" font-style="italic" fill="#000">opt</text>
<text x="176" y="467" style="font-family:'Liberation Serif',serif" font-size="20" fill="#000"><tspan font-style="italic">T</tspan><tspan font-size="11.5" dy="4" font-style="italic">dr</tspan><tspan dy="-4" dx="2">(</tspan><tspan font-style="italic">Nm</tspan>)</text>
<text x="555" y="455" style="font-family:'Liberation Serif',serif" font-size="22.5" fill="#000"><tspan font-style="italic">n</tspan>(<tspan font-style="italic">rpm</tspan>)</text>
</svg></body></html>
